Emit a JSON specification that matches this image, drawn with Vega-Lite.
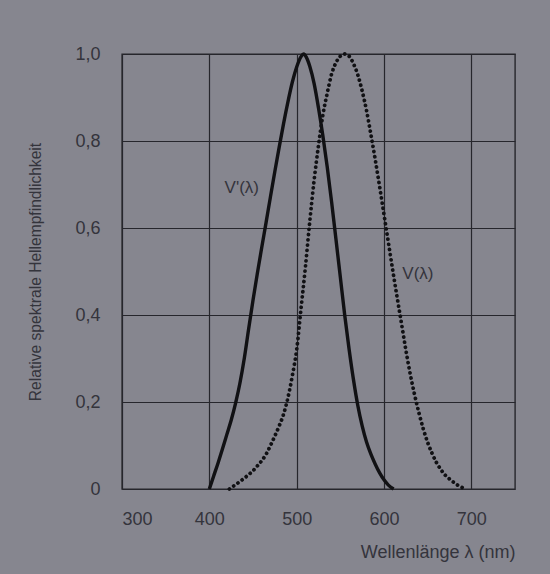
{
  "$schema": "https://vega.github.io/schema/vega-lite/v6.json",
  "width": 393,
  "height": 435,
  "autosize": {"type": "none"},
  "padding": {"left": 122, "top": 54, "right": 35, "bottom": 85},
  "background": "#86868f",
  "config": {
    "view": {"stroke": "#26262c", "strokeWidth": 1.4},
    "font": "Liberation Sans",
    "axis": {
      "grid": true, "gridColor": "#26262c", "gridWidth": 1.2, "gridOpacity": 1,
      "ticks": false, "domain": false,
      "labelFont": "Liberation Sans", "labelColor": "#34343c", "labelFontSize": 18,
      "titleFont": "Liberation Sans", "titleColor": "#34343c", "titleFontWeight": "normal"
    }
  },
  "datasets": {
    "scot": [
      {"nm": 400, "v": 0}, {"nm": 405, "v": 0.03}, {"nm": 410, "v": 0.06}, {"nm": 415, "v": 0.092},
      {"nm": 420, "v": 0.125}, {"nm": 425, "v": 0.158}, {"nm": 430, "v": 0.197}, {"nm": 435, "v": 0.243},
      {"nm": 440, "v": 0.3}, {"nm": 445, "v": 0.368}, {"nm": 450, "v": 0.434}, {"nm": 455, "v": 0.496},
      {"nm": 460, "v": 0.555}, {"nm": 465, "v": 0.613}, {"nm": 470, "v": 0.672}, {"nm": 475, "v": 0.73},
      {"nm": 480, "v": 0.786}, {"nm": 485, "v": 0.84}, {"nm": 490, "v": 0.89}, {"nm": 495, "v": 0.935},
      {"nm": 500, "v": 0.97}, {"nm": 505, "v": 0.994}, {"nm": 508, "v": 1.0}, {"nm": 511, "v": 0.993},
      {"nm": 515, "v": 0.972}, {"nm": 520, "v": 0.932}, {"nm": 525, "v": 0.876}, {"nm": 530, "v": 0.812},
      {"nm": 535, "v": 0.74}, {"nm": 540, "v": 0.66}, {"nm": 545, "v": 0.574}, {"nm": 550, "v": 0.487},
      {"nm": 555, "v": 0.4}, {"nm": 560, "v": 0.322}, {"nm": 565, "v": 0.252}, {"nm": 570, "v": 0.192},
      {"nm": 575, "v": 0.145}, {"nm": 580, "v": 0.108}, {"nm": 585, "v": 0.08}, {"nm": 590, "v": 0.057},
      {"nm": 595, "v": 0.037}, {"nm": 600, "v": 0.021}, {"nm": 605, "v": 0.009}, {"nm": 611, "v": 0}
    ],
    "phot": [
      {"nm": 423, "v": 0}, {"nm": 430, "v": 0.01}, {"nm": 435, "v": 0.017}, {"nm": 440, "v": 0.025},
      {"nm": 445, "v": 0.033}, {"nm": 450, "v": 0.042}, {"nm": 455, "v": 0.053}, {"nm": 460, "v": 0.065},
      {"nm": 465, "v": 0.08}, {"nm": 470, "v": 0.1}, {"nm": 475, "v": 0.122}, {"nm": 480, "v": 0.145},
      {"nm": 485, "v": 0.172}, {"nm": 490, "v": 0.21}, {"nm": 495, "v": 0.26}, {"nm": 500, "v": 0.32},
      {"nm": 505, "v": 0.415}, {"nm": 510, "v": 0.51}, {"nm": 515, "v": 0.615}, {"nm": 520, "v": 0.71},
      {"nm": 525, "v": 0.79}, {"nm": 530, "v": 0.86}, {"nm": 535, "v": 0.91}, {"nm": 540, "v": 0.954},
      {"nm": 545, "v": 0.98}, {"nm": 550, "v": 0.995}, {"nm": 555, "v": 1.0}, {"nm": 560, "v": 0.995},
      {"nm": 565, "v": 0.978}, {"nm": 570, "v": 0.952}, {"nm": 575, "v": 0.915}, {"nm": 580, "v": 0.87},
      {"nm": 585, "v": 0.815}, {"nm": 590, "v": 0.757}, {"nm": 595, "v": 0.695}, {"nm": 600, "v": 0.631},
      {"nm": 605, "v": 0.567}, {"nm": 610, "v": 0.503}, {"nm": 615, "v": 0.441}, {"nm": 620, "v": 0.381},
      {"nm": 625, "v": 0.32}, {"nm": 630, "v": 0.265}, {"nm": 635, "v": 0.217}, {"nm": 640, "v": 0.175},
      {"nm": 645, "v": 0.138}, {"nm": 650, "v": 0.107}, {"nm": 655, "v": 0.082}, {"nm": 660, "v": 0.061},
      {"nm": 665, "v": 0.045}, {"nm": 670, "v": 0.032}, {"nm": 675, "v": 0.023}, {"nm": 680, "v": 0.015},
      {"nm": 685, "v": 0.008}, {"nm": 690, "v": 0.003}, {"nm": 693, "v": 0}
    ],
    "labels": [
      {"nm": 417.5, "v": 0.693, "t": "V'(λ)"},
      {"nm": 621, "v": 0.495, "t": "V(λ)"}
    ]
  },
  "encoding": {
    "x": {
      "field": "nm", "type": "quantitative",
      "scale": {"domain": [300, 750], "nice": false, "zero": false},
      "axis": {
        "values": [300, 400, 500, 600, 700],
        "labelPadding": 21,
        "title": "Wellenlänge λ (nm)",
        "titleFontSize": 18,
        "titleX": 393, "titleY": 63, "titleAlign": "right", "titleBaseline": "middle", "titleAngle": 0
      }
    },
    "y": {
      "field": "v", "type": "quantitative",
      "scale": {"domain": [0, 1], "nice": false},
      "axis": {
        "values": [0, 0.2, 0.4, 0.6, 0.8, 1.0],
        "labelExpr": "datum.value == 0 ? '0' : replace(format(datum.value, '.1f'), '.', ',')",
        "labelPadding": 22,
        "title": "Relative spektrale Hellempfindlichkeit",
        "titleFontSize": 15.6,
        "titleX": -87, "titleY": 217.5, "titleAngle": -90, "titleAlign": "center", "titleBaseline": "middle"
      }
    }
  },
  "layer": [
    {
      "data": {"name": "scot"},
      "mark": {"type": "line", "color": "#111114", "strokeWidth": 3.4, "interpolate": "monotone"}
    },
    {
      "data": {"name": "phot"},
      "mark": {"type": "line", "color": "#111114", "strokeWidth": 3.8, "strokeCap": "round", "strokeDash": [0.01, 5.2], "interpolate": "monotone"}
    },
    {
      "data": {"name": "labels"},
      "mark": {"type": "text", "align": "left", "baseline": "middle", "fontSize": 17, "color": "#34343c", "font": "Liberation Sans"},
      "encoding": {"text": {"field": "t"}}
    }
  ]
}
